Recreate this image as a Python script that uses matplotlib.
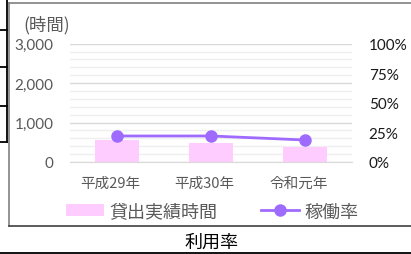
import matplotlib
matplotlib.use("Agg")
import matplotlib.pyplot as plt
from matplotlib.lines import Line2D
from matplotlib.patches import Patch
from matplotlib.ticker import MultipleLocator, FuncFormatter
from matplotlib.transforms import ScaledTranslation

plt.rcParams['font.family'] = ['Lato', 'Noto Sans CJK JP', 'DejaVu Sans']

categories = ["平成29年", "平成30年", "令和元年"]
hours = [565, 474, 380]
rates = [0.22, 0.22, 0.186]
left_ticks = [0, 1000, 2000, 3000]
right_ticks = [0, 0.25, 0.5, 0.75, 1.0]

W, H = 411, 255
fig = plt.figure(figsize=(W / 100, H / 100), dpi=100)

def fx(px):
    return px / W

def fy(py):
    return 1 - py / H

ax_l, ax_r, ax_t, ax_b = 70, 352, 44.7, 163
ax = fig.add_axes([fx(ax_l), fy(ax_b), fx(ax_r - ax_l), (ax_b - ax_t) / H])
ax2 = ax.twinx()

x = list(range(len(categories)))
ax.bar(x, hours, width=0.47, color="#FFCCFF", zorder=2)
ax.set_xlim(-0.5, 2.5)
ax.set_ylim(0, 3000)
ax.set_yticks(left_ticks)
ax.yaxis.set_minor_locator(MultipleLocator(200))
ax.yaxis.set_major_formatter(FuncFormatter(lambda v, p: f"{int(v):,}"))
ax.grid(axis="y", which="minor", color="#EFEFEF", linewidth=1, zorder=0)
ax.grid(axis="y", which="major", color="#D9D9D9", linewidth=1, zorder=0)
ax.set_axisbelow(True)
ax.set_xticks(x)
ax.set_xticklabels(categories, fontsize=10.5, color="#595959",
                   family=['Noto Sans CJK JP'])
ax.tick_params(axis="x", length=0, pad=10)
shift = ScaledTranslation(-6.5 / 100, 0, fig.dpi_scale_trans)
for lbl in ax.get_xticklabels():
    lbl.set_transform(lbl.get_transform() + shift)
ax.tick_params(axis="y", which="both", length=0, pad=12, labelsize=11,
               labelcolor="#595959")
for s in ax.spines.values():
    s.set_visible(False)
ax.spines["bottom"].set_visible(True)
ax.spines["bottom"].set_color("#D9D9D9")

ax2.plot(x, rates, color="#9F6BFF", linewidth=2, marker="o", markersize=8,
         zorder=3)
ax2.set_ylim(0, 1.0)
ax2.set_yticks(right_ticks)
ax2.yaxis.set_major_formatter(FuncFormatter(lambda v, p: f"{int(round(v * 100))}%"))
ax2.tick_params(axis="y", length=0, pad=12, labelsize=11, labelcolor="#1a1a1a")
for s in ax2.spines.values():
    s.set_visible(False)

# unit label
fig.text(fx(23), fy(25), "(時間)", fontsize=12.5, color="#595959",
         ha="left", va="center", family=['Noto Sans CJK JP'])

# legend
handles = [Patch(facecolor="#FFCCFF", edgecolor="none", label="貸出実績時間"),
           Line2D([0], [0], color="#9F6BFF", linewidth=2, marker="o",
                  markersize=8, label="稼働率")]
leg = fig.legend(handles=handles, loc="center", ncol=2,
                 bbox_to_anchor=(fx(212), fy(212.5)), frameon=False,
                 prop={'family': ['Noto Sans CJK JP'], 'size': 13},
                 handlelength=2.1, handleheight=0.6, handletextpad=0.3,
                 columnspacing=2.4, borderpad=0)
for t in leg.get_texts():
    t.set_color("#595959")

# title below chart
fig.text(fx(211), fy(243), "利用率", fontsize=13, color="#000000",
         ha="center", va="center", family=['Noto Sans CJK JP'])

# chart frame
frame_c = "#808080"
fig.add_artist(Line2D([fx(8.5), fx(8.5)], [fy(4), fy(227)], color=frame_c, lw=1.2))
fig.add_artist(Line2D([fx(8.5), 1], [fy(4), fy(4)], color=frame_c, lw=1.2))
fig.add_artist(Line2D([fx(8.5), 1], [fy(227), fy(227)], color="#404040", lw=1.2))
# table fragments
fig.add_artist(Line2D([fx(7), fx(7)], [1, fy(143)], color="black", lw=1.3))
for yy in [31, 68, 107, 143]:
    fig.add_artist(Line2D([0, fx(7)], [fy(yy), fy(yy)], color="black", lw=1.3))
fig.add_artist(Line2D([0, 1], [fy(253.5), fy(253.5)], color="black", lw=1.3))

fig.savefig("out.png", dpi=100)
